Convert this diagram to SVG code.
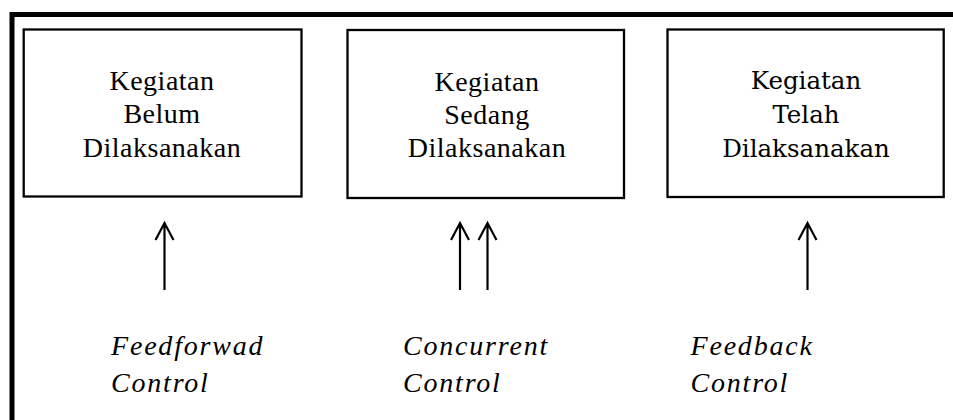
<svg xmlns="http://www.w3.org/2000/svg" width="953" height="420" viewBox="0 0 953 420">
<style>
.box{fill:#fff;stroke:#000;stroke-width:2.3}
.t{font-family:"Liberation Serif","Times New Roman",serif;font-size:28px;letter-spacing:0.5px;text-anchor:middle;fill:#000}
.t3{font-family:"DejaVu Serif",serif;font-size:24.5px;text-anchor:middle;fill:#000}
.lbl{font-family:"Liberation Serif","Times New Roman",serif;font-size:28px;font-style:italic;letter-spacing:1.8px;fill:#000}
.arr{fill:none;stroke:#000;stroke-width:2.2}
</style>
<rect width="953" height="420" fill="#fff"/>
<g id="frame">
<path d="M12 420 V14.5 H953" fill="none" stroke="#000" stroke-width="5"/>
</g>
<g id="node1">
<rect class="box" x="23.7" y="29.5" width="277.8" height="167"/>
<text class="t" x="162" y="90">Kegiatan</text>
<text class="t" x="162" y="123">Belum</text>
<text class="t" x="162" y="157">Dilaksanakan</text>
</g>
<g id="node2">
<rect class="box" x="347.5" y="30" width="276.5" height="168"/>
<text class="t" x="487" y="90.5">Kegiatan</text>
<text class="t" x="487" y="124">Sedang</text>
<text class="t" x="487" y="157">Dilaksanakan</text>
</g>
<g id="node3">
<rect class="box" x="667.5" y="29.5" width="276.2" height="167.5"/>
<text class="t3" x="806" y="89">Kegiatan</text>
<text class="t3" x="806" y="123">Telah</text>
<text class="t3" x="806" y="157">Dilaksanakan</text>
</g>
<g id="connectors">
<path class="arr" d="M164.5 290 V223 M155.5 240 L164.5 223 L173.5 240"/>
<path class="arr" d="M460 290 V223 M451 240 L460 223 L469 240"/>
<path class="arr" d="M487.5 290 V223 M478.5 240 L487.5 223 L496.5 240"/>
<path class="arr" d="M807.5 290 V223 M798.5 240 L807.5 223 L816.5 240"/>
</g>
<g id="label1">
<text class="lbl" x="111" y="355">Feedforwad</text>
<text class="lbl" x="111" y="392">Control</text>
</g>
<g id="label2">
<text class="lbl" x="403" y="355">Concurrent</text>
<text class="lbl" x="403" y="392">Control</text>
</g>
<g id="label3">
<text class="lbl" x="690.5" y="355">Feedback</text>
<text class="lbl" x="690.5" y="392">Control</text>
</g>
</svg>
